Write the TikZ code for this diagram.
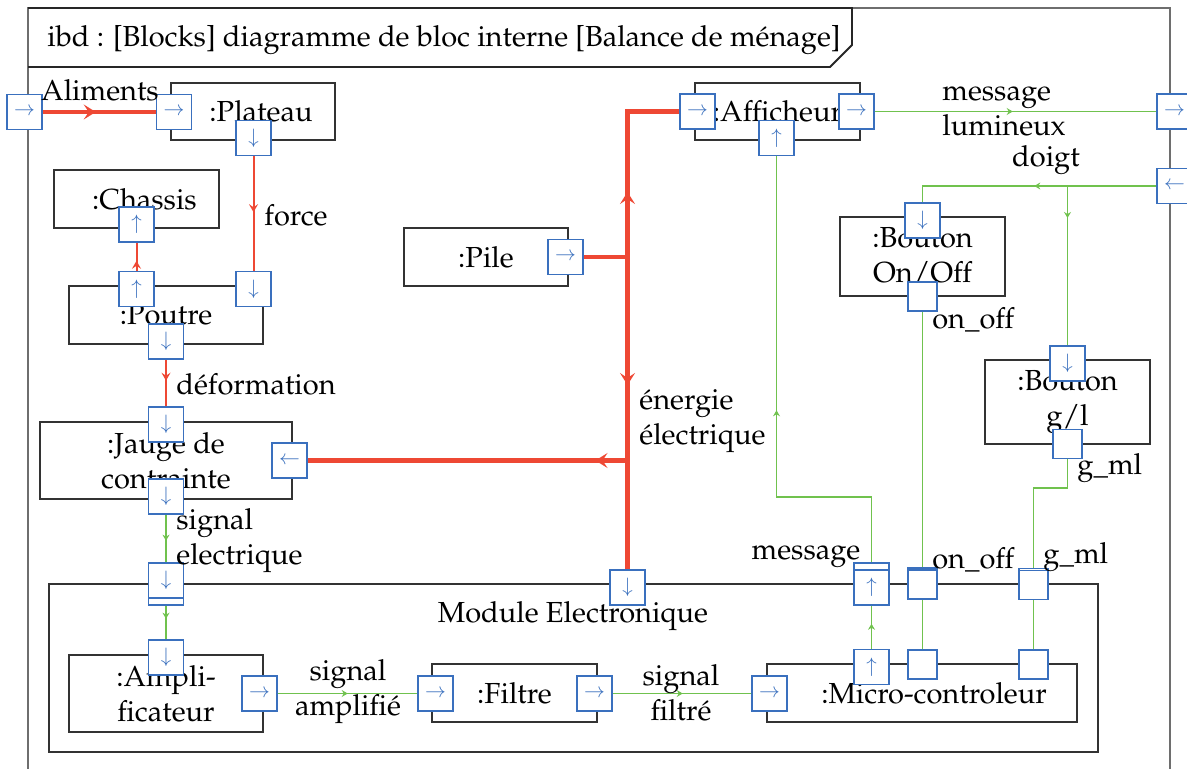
\documentclass[tikz,border=0pt]{standalone}
\usepackage[T1]{fontenc}
\usepackage{mathpazo}
\usetikzlibrary{arrows.meta,decorations.markings,backgrounds}
\definecolor{pblue}{RGB}{58,112,190}
\definecolor{ered}{RGB}{238,72,52}
\definecolor{sgreen}{RGB}{112,194,78}
\definecolor{fgray}{RGB}{110,110,110}
\tikzset{
 blk/.style={draw=black!80, line width=0.7pt, align=center, inner sep=0pt},
 port/.style={draw=pblue, fill=white, line width=0.7pt, minimum size=17.5pt, inner sep=0pt, text=pblue, font=\fontsize{10}{10}\selectfont},
 sport/.style={port, minimum size=14.5pt},
 lbl/.style={inner sep=0pt, align=left},
 thickred/.style={draw=ered, line width=2.2pt},
 thinred/.style={draw=ered, line width=1pt},
 grn/.style={draw=sgreen, line width=0.75pt},
 bigarr/.style={postaction={decorate,decoration={markings,mark=at position #1 with {\arrow{Stealth[length=6pt,width=7.5pt,inset=2.5pt,color=ered]}}}}},
 redarr/.style={postaction={decorate,decoration={markings,mark=at position #1 with {\arrow{Stealth[length=4pt,width=4.5pt,inset=1.5pt,color=ered]}}}}},
 grnarr/.style={postaction={decorate,decoration={markings,mark=at position #1 with {\arrow{Stealth[length=3pt,width=3.5pt,inset=1pt,color=sgreen]}}}}},
}
\begin{document}
\begin{tikzpicture}[x=0.5pt,y=-0.5pt,font=\fontsize{14.5}{17.5}\selectfont]
\useasboundingbox (0,0) rectangle (1187,769);
\clip (0,0) rectangle (1187,769);
% outer frame
\draw[fgray, line width=0.8pt] (28,8) rectangle (1170,800);
\draw[black!85, line width=0.9pt] (28,8) -- (852,8) -- (852,45) -- (830,67) -- (28,67);
\node[lbl, anchor=west] (title) at (47,40) {ibd : [Blocks] diagramme de bloc interne [Balance de m\'enage]};
% blocks
\node[blk, minimum width=82pt, minimum height=28.5pt] (plateau) at (253,111.5) {\hspace*{8pt}:Plateau};
\node[blk, minimum width=82.5pt, minimum height=29pt] (chassis) at (136.5,199) {\hspace*{8pt}:Chassis};
\node[blk, minimum width=97pt, minimum height=29pt] (poutre) at (166,315) {:Poutre};
\node[blk, minimum width=126pt, minimum height=38.5pt] (jauge) at (166,460.5) {:Jauge de\\contrainte};
\node[blk, minimum width=524.5pt, minimum height=84pt] (module) at (573.5,668) {};
\node[lbl] (modlbl) at (573,616) {Module Electronique};
\node[blk, minimum width=97pt, minimum height=38.5pt] (ampli) at (166,693.5) {:Ampli-\\ficateur};
\node[blk, minimum width=82.5pt, minimum height=29pt] (filtre) at (514.5,693) {:Filtre};
\node[blk, minimum width=155pt, minimum height=29pt] (micro) at (922,693) {\hspace*{12pt}:Micro-controleur};
\node[blk, minimum width=82pt, minimum height=29pt] (pile) at (486,257) {:Pile};
\node[blk, minimum width=82.5pt, minimum height=28.5pt] (affich) at (777.5,111.5) {:Afficheur};
\node[blk, minimum width=82.5pt, minimum height=39.5pt] (bonoff) at (922.5,256.5) {:Bouton\\On/Off};
\node[blk, minimum width=82.5pt, minimum height=42pt] (bgl) at (1067.5,402) {:Bouton\\g/l};
% ports
\node[port] (pA) at (24.5,112) {$\rightarrow$};
\node[port] (pPin) at (174,112) {$\rightarrow$};
\node[port] (pPdown) at (253.5,138) {$\downarrow$};
\node[port] (pCup) at (136.5,224.5) {$\uparrow$};
\node[port] (pPoUp) at (136.5,289) {$\uparrow$};
\node[port] (pPoR) at (253.5,289) {$\downarrow$};
\node[port] (pPoD) at (166,341.5) {$\downarrow$};
\node[port] (pJT) at (166,424.5) {$\downarrow$};
\node[port] (pJR) at (289.5,460.5) {$\leftarrow$};
\node[port] (pJD) at (166,496.5) {$\downarrow$};
\node[port] (pMSb) at (166,587.5) {};
\node[port] (pMS) at (166,580.5) {$\downarrow$};
\node[port] (pAT) at (166,657.5) {$\downarrow$};
\node[port] (pAO) at (259.5,693.5) {$\rightarrow$};
\node[port] (pFI) at (435.5,693.5) {$\rightarrow$};
\node[port] (pFO) at (594.5,693.5) {$\rightarrow$};
\node[port] (pMI) at (769.5,693.5) {$\rightarrow$};
\node[port] (pME) at (627.5,587.5) {$\downarrow$};
\node[port] (pMcMsg) at (871.5,667) {$\uparrow$};
\node[sport] (pMcOn) at (922.5,664.5) {};
\node[sport] (pMcG) at (1033.5,664.5) {};
\node[port] (pMMsgb) at (871.5,580.5) {};
\node[port] (pMMsg) at (871.5,587.5) {$\uparrow$};
\node[sport] (pMOnb) at (922.5,582.5) {};
\node[sport] (pMOn) at (922.5,584.5) {};
\node[sport] (pMGb) at (1033.5,583) {};
\node[sport] (pMG) at (1033.5,585) {};
\node[port] (pAfI) at (697.5,111.5) {$\rightarrow$};
\node[port] (pAfU) at (776.5,138) {$\uparrow$};
\node[port] (pAfO) at (856.5,111.5) {$\rightarrow$};
\node[port] (pRO) at (1174.5,111.5) {$\rightarrow$};
\node[port] (pRI) at (1174.5,186) {$\leftarrow$};
\node[port] (pPile) at (565.5,257) {$\rightarrow$};
\node[port] (pBoT) at (922.5,220.5) {$\downarrow$};
\node[sport] (pBoB) at (922.5,296.5) {};
\node[port] (pBgT) at (1067.5,363.5) {$\downarrow$};
\node[sport] (pBgB) at (1067.5,444) {};
% junction coordinates
\coordinate (J) at (627.5,257);
\coordinate (Jtop) at (627.5,111.5);
\coordinate (Jlow) at (627.5,460.5);
\coordinate (D1) at (922.5,186);
\coordinate (D2) at (1067.5,186);
\coordinate (G1) at (1067.5,488);
\coordinate (G2) at (1033.5,488);
\coordinate (M1) at (871.5,497);
\coordinate (M2) at (776.5,497);
% connectors
\begin{scope}[on background layer]
\draw[thickred, bigarr=26.5pt] (pA) -- (pPin);
\draw[thinred, redarr=28pt] (pPdown) -- (pPoR);
\draw[thinred, redarr=5pt] (pPoUp) -- (pCup);
\draw[thinred, redarr=10.5pt] (pPoD) -- (pJT);
\draw[thickred] (pPile) -- (J);
\draw[thickred, bigarr=32.5pt] (J) -- (Jtop) -- (pAfI);
\draw[thickred, bigarr=64pt] (J) -- (pME);
\draw[thickred, bigarr=16pt] (Jlow) -- (pJR);
\draw[grn, grnarr=69pt] (pAfO) -- (pRO);
\draw[grn, grnarr=61pt] (pRI) -- (D1) -- (pBoT);
\draw[grn, grnarr=16pt] (D2) -- (pBgT);
\draw[grn] (pBoB) -- (pMcOn);
\draw[grn] (pBgB) -- (G1) -- (G2) -- (pMcG);
\draw[grn, grnarr=12.5pt] (pMcMsg) -- (pMMsg);
\draw[grn, grnarr=123.5pt] (pMMsgb) -- (M1) -- (M2) -- (pAfU);
\draw[grn, grnarr=13pt] (pJD) -- (pMS);
\draw[grn, grnarr=6.5pt] (pMSb) -- (pAT);
\draw[grn, grnarr=35pt] (pAO) -- (pFI);
\draw[grn, grnarr=35pt] (pFO) -- (pMI);
\end{scope}
% labels
\node[lbl] (lAlim) at (100,90) {Aliments};
\node[lbl] (lforce) at (296,215) {force};
\node[lbl] (ldef) at (256,384) {d\'eformation};
\node[lbl, anchor=west] (lsig) at (176,541) {signal\\electrique};
\node[lbl, align=center] (lamp) at (348,692) {signal\\amplifi\'e};
\node[lbl, align=center] (lfil) at (681,693) {signal\\filtr\'e};
\node[lbl, anchor=west] (lener) at (639,421) {\'energie\\\'electrique};
\node[lbl, anchor=west] (lmsgl) at (942,111) {message\\lumineux};
\node[lbl] (ldoigt) at (1046,160) {doigt};
\node[lbl, anchor=west] (lonoff1) at (932,320) {on\_off};
\node[lbl, anchor=west] (lgml1) at (1077,468) {g\_ml};
\node[lbl] (lmsg) at (806,557) {message};
\node[lbl, anchor=west] (lonoff2) at (932,560) {on\_off};
\node[lbl, anchor=west] (lgml2) at (1043,557) {g\_ml};
\end{tikzpicture}
\end{document}
